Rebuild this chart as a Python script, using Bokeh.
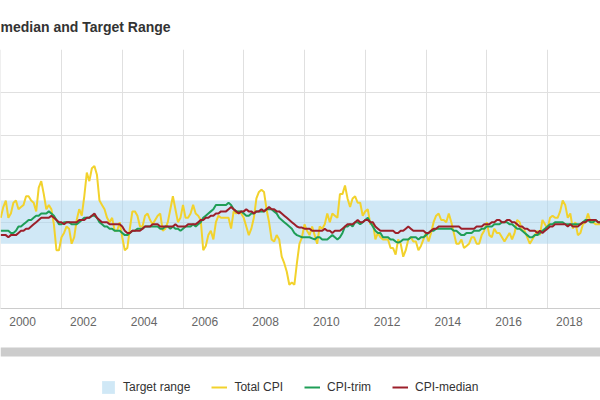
from bokeh.plotting import figure
from bokeh.layouts import column
from bokeh.models import Range1d, FixedTicker, Grid, Legend, LegendItem, BoxAnnotation
from bokeh.embed import file_html
from bokeh.resources import INLINE

# ---------------- data (monthly, y/y % change) ----------------
years = list(range(2000, 2020))

total_cpi = [
    2.2, 2.7, 3.0, 2.2, 2.4, 2.9, 3.0, 2.6, 2.7, 2.8, 3.2, 3.2,   # 2000
    3.0, 2.9, 2.5, 3.6, 3.9, 3.3, 2.6, 2.8, 2.6, 1.9, 0.7, 0.7,   # 2001
    1.3, 1.5, 1.8, 1.7, 1.0, 1.3, 2.1, 2.6, 2.3, 3.2, 4.3, 3.9,   # 2002
    4.5, 4.6, 4.2, 3.0, 2.8, 2.6, 2.2, 2.0, 2.2, 1.6, 1.6, 2.0,   # 2003
    1.3, 0.7, 0.8, 1.7, 2.5, 2.5, 2.3, 1.8, 1.8, 2.3, 2.4, 2.1,   # 2004
    1.9, 2.1, 2.3, 2.4, 1.6, 1.7, 2.0, 2.6, 3.2, 2.6, 2.0, 2.2,   # 2005
    2.8, 2.2, 2.2, 2.4, 2.8, 2.4, 2.3, 2.1, 0.7, 0.9, 1.4, 1.6,   # 2006
    1.2, 2.0, 2.3, 2.2, 2.2, 2.2, 2.2, 1.7, 2.5, 2.4, 2.5, 2.4,   # 2007
    2.2, 1.8, 1.4, 1.7, 2.2, 3.1, 3.4, 3.5, 3.4, 2.6, 2.0, 1.2,   # 2008
    1.1, 1.4, 1.2, 0.4, 0.1, -0.3, -0.9, -0.8, -0.9, 0.1, 1.0, 1.3,  # 2009
    1.9, 1.6, 1.4, 1.8, 1.4, 1.0, 1.8, 1.7, 1.9, 2.4, 2.0, 2.4,   # 2010
    2.3, 2.2, 3.3, 3.3, 3.7, 3.1, 2.7, 3.1, 3.2, 2.9, 2.9, 2.3,   # 2011
    2.5, 2.6, 1.9, 2.0, 1.2, 1.5, 1.3, 1.2, 1.2, 1.2, 0.8, 0.8,   # 2012
    0.5, 1.2, 1.0, 0.4, 0.7, 1.2, 1.3, 1.1, 1.1, 0.7, 0.9, 1.2,   # 2013
    1.5, 1.1, 1.5, 2.0, 2.3, 2.4, 2.1, 2.1, 2.0, 2.4, 2.0, 1.5,   # 2014
    1.0, 1.0, 1.2, 0.8, 0.9, 1.0, 1.3, 1.3, 1.0, 1.0, 1.4, 1.6,   # 2015
    2.0, 1.4, 1.3, 1.7, 1.5, 1.5, 1.3, 1.1, 1.3, 1.5, 1.2, 1.5,   # 2016
    2.1, 2.0, 1.6, 1.6, 1.3, 1.0, 1.2, 1.4, 1.6, 1.4, 2.1, 1.9,   # 2017
    1.7, 2.2, 2.3, 2.2, 2.2, 2.5, 3.0, 2.8, 2.2, 2.4, 1.7, 2.0,   # 2018
    1.4, 1.5, 1.9, 2.0, 2.4, 2.0, 2.0, 1.9, 1.9, 1.9, 2.2, 2.2,   # 2019
]

cpi_trim = [
    1.6, 1.6, 1.6, 1.6, 1.5, 1.5, 1.6, 1.8, 1.8, 1.9, 2.0, 2.1,   # 2000
    2.1, 2.2, 2.3, 2.3, 2.4, 2.4, 2.4, 2.5, 2.4, 2.3, 2.1, 1.9,   # 2001
    1.9, 2.0, 2.0, 2.0, 1.9, 1.9, 1.9, 2.0, 2.1, 2.2, 2.2, 2.2,   # 2002
    2.3, 2.3, 2.2, 2.0, 1.9, 1.8, 1.8, 1.7, 1.7, 1.6, 1.6, 1.6,   # 2003
    1.5, 1.4, 1.4, 1.5, 1.6, 1.6, 1.7, 1.7, 1.7, 1.8, 1.8, 1.8,   # 2004
    1.8, 1.8, 1.8, 1.7, 1.7, 1.8, 1.8, 1.7, 1.8, 1.7, 1.7, 1.6,   # 2005
    1.7, 1.8, 1.8, 1.8, 1.9, 1.8, 1.9, 2.0, 2.2, 2.3, 2.4, 2.5,   # 2006
    2.6, 2.8, 2.8, 2.8, 2.8, 2.8, 2.9, 2.8, 2.6, 2.5, 2.5, 2.5,   # 2007
    2.4, 2.3, 2.3, 2.4, 2.4, 2.5, 2.5, 2.5, 2.5, 2.6, 2.6, 2.6,   # 2008
    2.5, 2.4, 2.2, 2.1, 2.0, 1.9, 1.8, 1.7, 1.5, 1.4, 1.35, 1.3,  # 2009
    1.3, 1.3, 1.3, 1.25, 1.2, 1.3, 1.3, 1.2, 1.2, 1.2, 1.3, 1.4,  # 2010
    1.3, 1.2, 1.3, 1.5, 1.8, 1.8, 1.9, 1.8, 2.0, 2.0, 1.9, 2.0,   # 2011
    2.1, 2.2, 2.0, 1.8, 1.6, 1.5, 1.5, 1.3, 1.3, 1.3, 1.2, 1.2,   # 2012
    1.1, 1.05, 1.1, 1.2, 1.2, 1.2, 1.3, 1.3, 1.3, 1.2, 1.3, 1.3,  # 2013
    1.4, 1.5, 1.6, 1.6, 1.7, 1.7, 1.7, 1.7, 1.7, 1.7, 1.7, 1.6,   # 2014
    1.6, 1.5, 1.4, 1.4, 1.5, 1.5, 1.5, 1.6, 1.6, 1.6, 1.7, 1.7,   # 2015
    1.8, 1.8, 1.8, 1.9, 1.9, 1.9, 2.0, 2.0, 2.0, 1.9, 1.9, 1.8,   # 2016
    1.7, 1.7, 1.6, 1.5, 1.4, 1.3, 1.3, 1.4, 1.4, 1.5, 1.6, 1.7,   # 2017
    1.8, 1.9, 1.9, 2.0, 2.0, 2.0, 2.0, 1.9, 1.9, 1.9, 1.9, 1.9,   # 2018
    1.9, 1.9, 2.0, 2.1, 2.1, 2.0, 2.0, 2.1, 2.0, 2.0, 2.1, 2.1,   # 2019
]

cpi_median = [
    1.4, 1.4, 1.4, 1.3, 1.4, 1.4, 1.4, 1.5, 1.6, 1.6, 1.7, 1.7,   # 2000
    1.8, 1.9, 2.0, 2.1, 2.2, 2.2, 2.2, 2.2, 2.3, 2.2, 2.1, 2.0,   # 2001
    2.0, 1.9, 2.0, 2.0, 2.0, 2.0, 2.0, 2.1, 2.1, 2.1, 2.2, 2.2,   # 2002
    2.3, 2.4, 2.2, 2.1, 2.0, 2.0, 2.0, 1.9, 1.9, 1.9, 1.9, 1.9,   # 2003
    1.8, 1.6, 1.5, 1.5, 1.6, 1.6, 1.6, 1.6, 1.7, 1.8, 1.8, 1.8,   # 2004
    1.9, 1.9, 1.9, 1.8, 1.8, 1.8, 1.8, 1.8, 1.8, 1.9, 1.8, 1.8,   # 2005
    1.8, 1.8, 1.9, 1.9, 1.9, 1.9, 2.0, 2.1, 2.1, 2.2, 2.2, 2.3,   # 2006
    2.3, 2.4, 2.4, 2.5, 2.5, 2.5, 2.6, 2.7, 2.6, 2.5, 2.4, 2.5,   # 2007
    2.5, 2.6, 2.5, 2.5, 2.4, 2.5, 2.5, 2.6, 2.5, 2.6, 2.7, 2.6,   # 2008
    2.6, 2.5, 2.5, 2.4, 2.3, 2.2, 2.1, 2.0, 1.9, 1.8, 1.75, 1.75, # 2009
    1.7, 1.7, 1.7, 1.6, 1.6, 1.6, 1.6, 1.6, 1.7, 1.6, 1.6, 1.5,   # 2010
    1.6, 1.6, 1.6, 1.7, 1.8, 1.9, 1.9, 1.9, 2.0, 2.1, 2.0, 2.0,   # 2011
    2.1, 2.1, 2.0, 2.0, 1.8, 1.7, 1.6, 1.6, 1.6, 1.6, 1.6, 1.6,   # 2012
    1.5, 1.5, 1.6, 1.6, 1.7, 1.8, 1.7, 1.6, 1.6, 1.6, 1.6, 1.6,   # 2013
    1.5, 1.5, 1.6, 1.7, 1.7, 1.8, 1.8, 1.8, 1.8, 1.8, 1.8, 1.8,   # 2014
    1.8, 1.8, 1.7, 1.7, 1.7, 1.7, 1.7, 1.7, 1.8, 1.8, 1.8, 1.9,   # 2015
    1.9, 1.9, 2.0, 2.0, 2.1, 2.1, 2.0, 2.0, 2.1, 2.1, 2.0, 2.0,   # 2016
    1.9, 1.8, 1.8, 1.7, 1.7, 1.6, 1.6, 1.6, 1.5, 1.6, 1.5, 1.6,   # 2017
    1.7, 1.8, 1.8, 1.9, 1.9, 1.9, 1.9, 1.9, 1.8, 1.9, 1.8, 1.8,   # 2018
    1.8, 1.9, 2.0, 2.0, 2.1, 2.1, 2.1, 2.1, 2.0, 2.0, 2.1, 2.1,   # 2019
]

target_low = 1.0
target_high = 3.0

tick_years = [2000, 2002, 2004, 2006, 2008, 2010, 2012, 2014, 2016, 2018]
tick_labels = [str(y) for y in tick_years]
y_ticks = [-2, 0, 2, 4, 6, 8, 10]

# month positions as fractional years (first of month)
x = [y + m / 12.0 for y in years for m in range(12)]

YELLOW = "#f2d22c"
GREEN = "#1f9e57"
RED = "#9c1f2a"
BAND_FILL = "#a9d5ee"

# ---------------- main chart ----------------
px_per_year = 30.375
x_start = 2000 - 0.25 / px_per_year
x_end = x_start + 600 / px_per_year
xr = Range1d(x_start, x_end)

p = figure(frame_width=600, frame_height=259,
           x_range=xr, y_range=Range1d(-2, 10),
           y_axis_location=None, toolbar_location=None, output_backend="svg",
           min_border_top=49, min_border_left=0, min_border_right=0,
           min_border_bottom=30)

p.outline_line_color = None
p.background_fill_color = "white"
p.border_fill_color = "white"

p.title.text = "median and Target Range"
p.title.text_font = "Liberation Sans"
p.title.text_font_size = "14px"
p.title.text_font_style = "bold"
p.title.text_color = "#333333"
p.title.align = "left"
p.title.offset = 0
p.title.standoff = 30

for g in p.ygrid:
    g.visible = False
p.add_layout(Grid(dimension=1, ticker=FixedTicker(ticks=y_ticks),
                  grid_line_color="#e0e0e0", grid_line_width=1))
p.xgrid.ticker = FixedTicker(ticks=tick_years)
p.xgrid.grid_line_color = "#e0e0e0"

# x axis: labels sit to the right of each year's gridline
label_offset = 0.72
label_pos = [round(y + label_offset, 2) for y in tick_years]
ax = p.xaxis[0]
ax.ticker = FixedTicker(ticks=label_pos)
ax.major_label_overrides = {pos: lab for pos, lab in zip(label_pos, tick_labels)}
ax.major_tick_out = 0
ax.major_tick_in = 0
ax.minor_tick_out = 0
ax.minor_tick_in = 0
ax.axis_line_color = "#cccccc"
ax.major_label_standoff = 8
ax.major_label_text_font = "Liberation Sans"
ax.major_label_text_font_size = "12px"
ax.major_label_text_color = "#666666"

band = p.quad(left=[x[0]], right=[x[-1]], bottom=[target_low], top=[target_high],
              fill_color=BAND_FILL, fill_alpha=0.55, line_color=None)
p.line(x, total_cpi, line_color=YELLOW, line_width=2)
p.line(x, cpi_trim, line_color=GREEN, line_width=2)
p.line(x, cpi_median, line_color=RED, line_width=2)

# ---------------- strip below: scrollbar and legend ----------------
strip_h = 62
q = figure(width=600, height=strip_h, x_range=xr, y_range=Range1d(0, strip_h),
           x_axis_location=None, y_axis_location=None, toolbar_location=None,
           output_backend="svg", min_border=0)
q.outline_line_color = None
q.border_fill_color = "white"
q.background_fill_color = "white"
for g in q.grid:
    g.visible = False

q.add_layout(BoxAnnotation(bottom=44, top=53, fill_color="#cccccc", fill_alpha=1,
                           line_color=None))

lg_band = q.quad(left=[x[0]], right=[x[-1]], bottom=[target_low], top=[target_high],
                 fill_color=BAND_FILL, fill_alpha=0.55, line_color=None, visible=False)
lg_total = q.line(x, total_cpi, line_color=YELLOW, line_width=2, visible=False)
lg_trim = q.line(x, cpi_trim, line_color=GREEN, line_width=2, visible=False)
lg_med = q.line(x, cpi_median, line_color=RED, line_width=2, visible=False)

legend = Legend(items=[
    LegendItem(label="Target range", renderers=[lg_band]),
    LegendItem(label="Total CPI", renderers=[lg_total]),
    LegendItem(label="CPI-trim", renderers=[lg_trim]),
    LegendItem(label="CPI-median", renderers=[lg_med]),
], orientation="horizontal", location=(100, 5),
    spacing=21, label_standoff=7, glyph_width=16, glyph_height=16,
    label_height=16, padding=0, margin=0, border_line_color=None,
    background_fill_alpha=0, label_text_font="Liberation Sans",
    label_text_font_size="12px", label_text_color="#333333")
q.add_layout(legend)

layout = column(p, q, spacing=0)
open("out.html", "w").write(file_html(layout, INLINE))
